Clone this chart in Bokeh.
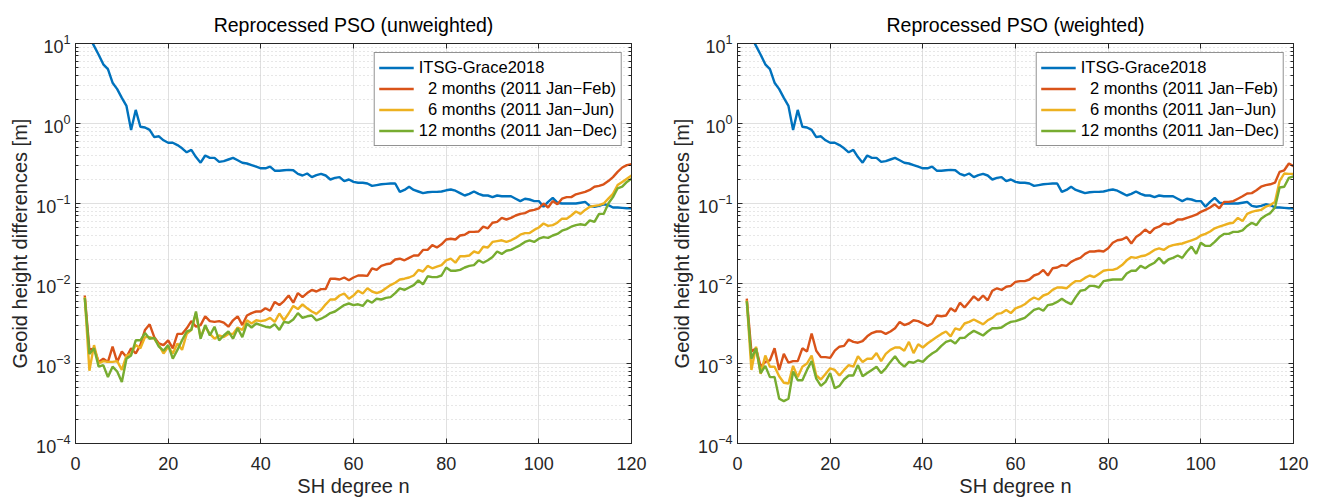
from bokeh.plotting import figure
from bokeh.layouts import row
from bokeh.models import LinearAxis, LogAxis, FixedTicker, Legend, LegendItem
from bokeh.embed import file_html
from bokeh.resources import INLINE

# SH degrees
degrees = list(range(2, 121))

# values, stored as log10 of geoid height differences [m]
itsg_log10 = [
    1.30, 1.08, 0.97, 0.86, 0.74, 0.68, 0.51, 0.43, 0.32, 0.22,
    -0.08, 0.17, -0.04, -0.05, -0.08, -0.17, -0.16, -0.21, -0.24, -0.24,
    -0.27, -0.31, -0.36, -0.33, -0.42, -0.49, -0.40, -0.43, -0.43, -0.48,
    -0.47, -0.45, -0.43, -0.46, -0.49, -0.50, -0.52, -0.54, -0.56, -0.56,
    -0.54, -0.59, -0.59, -0.585, -0.58, -0.585, -0.63, -0.65, -0.625, -0.67,
    -0.645, -0.63, -0.65, -0.70, -0.68, -0.67, -0.72, -0.70, -0.73, -0.74,
    -0.74, -0.75, -0.78, -0.77, -0.76, -0.755, -0.75, -0.75, -0.855, -0.83,
    -0.79, -0.83, -0.85, -0.87, -0.86, -0.855, -0.855, -0.85, -0.835, -0.825,
    -0.84, -0.87, -0.90, -0.88, -0.85, -0.88, -0.90, -0.90, -0.92, -0.90,
    -0.91, -0.91, -0.91, -0.94, -0.97, -0.94, -0.95, -0.97, -0.97, -1.04,
    -0.98, -0.93, -0.99, -1.00, -1.00, -1.00, -1.00, -0.99, -0.98, -1.03,
    -1.04, -1.03, -1.01, -1.02, -1.05, -1.05, -1.055, -1.06, -1.06,
]

# unweighted
m2_unw_log10 = [
    -2.15, -2.83, -2.81, -2.98, -2.94, -2.98, -2.79, -2.98, -2.85, -2.92,
    -2.81, -2.875, -2.77, -2.58, -2.51, -2.67, -2.75, -2.77, -2.71, -2.81,
    -2.63, -2.63, -2.56, -2.47, -2.54, -2.52, -2.41, -2.47, -2.48, -2.47,
    -2.49, -2.54, -2.46, -2.41, -2.52, -2.40, -2.37, -2.35, -2.35, -2.31,
    -2.34, -2.23, -2.27, -2.22, -2.15, -2.24, -2.12, -2.17, -2.12, -2.08,
    -2.10, -2.07, -2.07, -1.94, -1.94, -1.95, -1.925, -1.96, -1.925, -1.90,
    -1.90, -1.905, -1.81, -1.83, -1.78, -1.76, -1.75, -1.70, -1.69, -1.71,
    -1.68, -1.65, -1.65, -1.58, -1.58, -1.52, -1.55, -1.51, -1.45, -1.44,
    -1.45, -1.40, -1.39, -1.355, -1.355, -1.35, -1.29, -1.31, -1.24, -1.23,
    -1.18, -1.20, -1.18, -1.15, -1.13, -1.12, -1.09, -1.08, -1.06, -1.00,
    -1.05, -0.97, -1.01, -0.94, -0.92, -0.92, -0.885, -0.87, -0.855, -0.83,
    -0.79, -0.78, -0.76, -0.72, -0.67, -0.605, -0.55, -0.52, -0.51,
]
m6_unw_log10 = [
    -2.17, -3.09, -2.77, -3.00, -2.97, -2.98, -2.98, -2.97, -3.08, -2.90,
    -2.875, -2.77, -2.81, -2.67, -2.67, -2.69, -2.77, -2.875, -2.79, -2.875,
    -2.75, -2.83, -2.63, -2.58, -2.375, -2.67, -2.54, -2.63, -2.69, -2.65,
    -2.67, -2.63, -2.63, -2.55, -2.58, -2.46, -2.50, -2.46, -2.47, -2.46,
    -2.43, -2.48, -2.375, -2.46, -2.375, -2.28, -2.32, -2.26, -2.31, -2.35,
    -2.38, -2.33, -2.26, -2.20, -2.20, -2.15, -2.125, -2.19, -2.15, -2.09,
    -2.125, -2.06, -2.10, -2.12, -2.10, -2.06, -2.02, -1.99, -1.95, -1.94,
    -1.925, -1.90, -1.83, -1.85, -1.78, -1.81, -1.79, -1.77, -1.71, -1.69,
    -1.74, -1.66, -1.66, -1.65, -1.60, -1.62, -1.54, -1.55, -1.48, -1.47,
    -1.46, -1.48, -1.46, -1.43, -1.39, -1.37, -1.37, -1.33, -1.30, -1.25,
    -1.28, -1.27, -1.24, -1.19, -1.19, -1.15, -1.10, -1.13, -1.08, -1.04,
    -1.03, -1.02, -1.00, -0.94, -0.88, -0.77, -0.73, -0.69, -0.65,
]
m12_unw_log10 = [
    -2.18, -2.88, -2.81, -3.04, -3.02, -3.17, -3.04, -3.10, -3.23, -2.94,
    -2.90, -2.71, -2.71, -2.62, -2.69, -2.68, -2.79, -2.84, -2.77, -2.94,
    -2.83, -2.71, -2.60, -2.58, -2.35, -2.69, -2.52, -2.65, -2.54, -2.71,
    -2.65, -2.60, -2.69, -2.56, -2.67, -2.50, -2.55, -2.50, -2.52, -2.54,
    -2.55, -2.51, -2.58, -2.48, -2.49, -2.45, -2.37, -2.43, -2.41, -2.40,
    -2.46, -2.44, -2.41, -2.37, -2.35, -2.31, -2.27, -2.25, -2.27, -2.26,
    -2.28, -2.21, -2.24, -2.19, -2.20, -2.18, -2.17, -2.12, -2.06, -2.08,
    -2.05, -2.02, -1.96, -2.01, -1.91, -1.92, -1.92, -1.90, -1.80, -1.84,
    -1.84, -1.83, -1.80, -1.78, -1.77, -1.71, -1.74, -1.71, -1.67, -1.60,
    -1.63, -1.59, -1.58, -1.55, -1.52, -1.48, -1.46, -1.48, -1.44, -1.42,
    -1.43, -1.40, -1.38, -1.34, -1.32, -1.29, -1.27, -1.26, -1.27, -1.21,
    -1.23, -1.13, -1.13, -1.00, -0.92, -0.81, -0.79, -0.73, -0.69,
]

# weighted
m2_w_log10 = [
    -2.19, -2.85, -2.81, -3.04, -2.98, -2.96, -2.81, -3.08, -2.88, -2.99,
    -2.97, -2.97, -2.81, -2.85, -2.625, -2.84, -2.92, -2.92, -2.93, -2.84,
    -2.79, -2.78, -2.70, -2.73, -2.74, -2.72, -2.66, -2.62, -2.60, -2.60,
    -2.63, -2.60, -2.56, -2.48, -2.52, -2.50, -2.46, -2.47, -2.50, -2.53,
    -2.50, -2.40, -2.41, -2.40, -2.31, -2.35, -2.24, -2.30, -2.23, -2.16,
    -2.21, -2.15, -2.21, -2.09, -2.06, -2.08, -2.04, -2.03, -1.98, -1.97,
    -1.97, -1.95, -1.90, -1.88, -1.83, -1.90, -1.81, -1.80, -1.77, -1.78,
    -1.73, -1.70, -1.68, -1.63, -1.60, -1.60, -1.59, -1.60, -1.56, -1.49,
    -1.46, -1.45, -1.42, -1.50, -1.42, -1.38, -1.325, -1.37, -1.31, -1.29,
    -1.25, -1.26, -1.24, -1.20, -1.20, -1.18, -1.16, -1.14, -1.105, -1.08,
    -1.05, -1.01, -1.06, -0.98, -0.98, -0.97, -0.94, -0.91, -0.875, -0.87,
    -0.835, -0.79, -0.77, -0.76, -0.74, -0.605, -0.585, -0.50, -0.534,
]
m6_w_log10 = [
    -2.21, -3.08, -2.79, -3.13, -2.90, -3.04, -3.04, -3.16, -3.24, -3.25,
    -3.03, -3.17, -3.04, -3.00, -2.90, -3.15, -3.20, -3.13, -3.06, -3.08,
    -3.15, -3.08, -3.02, -3.04, -2.91, -2.98, -2.94, -2.94, -2.87, -2.97,
    -2.88, -2.83, -2.80, -2.80, -2.84, -2.73, -2.87, -2.76, -2.80, -2.75,
    -2.71, -2.67, -2.63, -2.60, -2.66, -2.56, -2.58, -2.50, -2.48, -2.45,
    -2.48, -2.51, -2.46, -2.43, -2.38, -2.37, -2.33, -2.37, -2.31, -2.29,
    -2.26, -2.21, -2.175, -2.20, -2.15, -2.13, -2.08, -2.05, -2.05, -2.06,
    -2.01, -1.97, -1.97, -1.93, -1.90, -1.92, -1.88, -1.84, -1.83, -1.83,
    -1.81, -1.77, -1.71, -1.67, -1.68, -1.66, -1.65, -1.62, -1.58, -1.56,
    -1.58, -1.54, -1.52, -1.51, -1.50, -1.48, -1.46, -1.44, -1.40, -1.38,
    -1.35, -1.31, -1.29, -1.27, -1.25, -1.24, -1.18, -1.22, -1.13, -1.105,
    -1.09, -1.08, -1.04, -1.02, -0.98, -0.72, -0.625, -0.63, -0.63,
]
m12_w_log10 = [
    -2.22, -2.94, -2.81, -3.12, -3.03, -3.17, -3.17, -3.44, -3.47, -3.44,
    -3.10, -3.21, -3.21, -3.08, -2.97, -3.19, -3.28, -3.23, -3.12, -3.31,
    -3.28, -3.20, -3.15, -3.15, -3.02, -3.16, -3.12, -3.08, -3.04, -3.12,
    -3.06, -2.98, -2.91, -2.99, -3.04, -2.98, -2.99, -2.96, -2.98, -2.92,
    -2.875, -2.84, -2.78, -2.73, -2.71, -2.75, -2.68, -2.68, -2.63, -2.59,
    -2.62, -2.65, -2.60, -2.56, -2.56, -2.55, -2.51, -2.48, -2.47, -2.45,
    -2.43, -2.38, -2.33, -2.31, -2.34, -2.27, -2.26, -2.23, -2.19, -2.23,
    -2.26, -2.17, -2.09, -2.08, -2.03, -2.03, -2.05, -1.97, -1.96, -1.95,
    -1.95, -1.95, -1.875, -1.84, -1.84, -1.78, -1.81, -1.77, -1.74, -1.68,
    -1.75, -1.70, -1.68, -1.65, -1.68, -1.60, -1.54, -1.63, -1.49, -1.53,
    -1.53, -1.48, -1.42, -1.38, -1.38, -1.355, -1.355, -1.335, -1.28, -1.24,
    -1.27, -1.19, -1.15, -1.12, -1.05, -0.80, -0.79, -0.68, -0.66,
]

titles = ["Reprocessed PSO (unweighted)", "Reprocessed PSO (weighted)"]
series_labels = [
    "ITSG-Grace2018",
    "\u00a0\u00a02 months (2011 Jan\u2212Feb)",
    "\u00a0\u00a06 months (2011 Jan\u2212Jun)",
    "12 months (2011 Jan\u2212Dec)",
]
colors = ["#0072BD", "#D95319", "#EDB120", "#77AC30"]
x_ticks = [0, 20, 40, 60, 80, 100, 120]
y_ticks = [1e-4, 1e-3, 1e-2, 1e-1, 1e0, 1e1]
y_minor = [m * 10.0 ** e for e in range(-4, 1) for m in range(2, 10)]

FONT = "Liberation Sans"
AXC = "#262626"


def to_val(arr):
    return [10.0 ** v for v in arr]


def panel(title, series, min_left, min_right):
    p = figure(
        frame_width=556, frame_height=400,
        x_range=(0, 120), y_range=(1e-4, 1e1), y_axis_type="log",
        output_backend="svg", toolbar_location=None,
        min_border_left=min_left, min_border_right=min_right,
        min_border_top=43, min_border_bottom=56,
        background_fill_color="white", border_fill_color="white",
    )
    p.title.text = title
    p.title.align = "center"
    p.title.vertical_align = "top"
    p.title.text_font = FONT
    p.title.text_font_size = "19.5px"
    p.title.text_font_style = "normal"
    p.title.text_color = "black"
    p.title.standoff = 12

    p.outline_line_color = AXC
    p.outline_line_width = 1

    xt = FixedTicker(ticks=x_ticks, minor_ticks=[])
    yt = FixedTicker(ticks=y_ticks, minor_ticks=y_minor)

    for ax in p.xaxis:
        ax.ticker = xt
        ax.axis_label = "SH degree n"
    for ax in p.yaxis:
        ax.ticker = yt
        ax.axis_label = "Geoid height differences [m]"
    for ax in list(p.xaxis) + list(p.yaxis):
        ax.axis_label_text_font = FONT
        ax.axis_label_text_font_size = "20px"
        ax.axis_label_text_font_style = "normal"
        ax.axis_label_text_color = AXC
        ax.major_label_text_font = FONT
        ax.major_label_text_font_size = "18px"
        ax.major_label_text_color = AXC
        ax.axis_line_color = AXC
        ax.major_tick_line_color = AXC
        ax.minor_tick_line_color = AXC
        ax.major_tick_in = 5
        ax.major_tick_out = 0
        ax.minor_tick_in = 3
        ax.minor_tick_out = 0
    p.xaxis.major_label_standoff = 13
    p.xaxis.axis_label_standoff = 2
    p.yaxis.major_label_standoff = 5
    p.yaxis.axis_label_standoff = 2

    top = LinearAxis(ticker=xt, major_label_text_font_size="1px",
                     major_label_text_alpha=0,
                     major_tick_in=5, major_tick_out=0, minor_tick_line_color=None,
                     axis_line_color=AXC, major_tick_line_color=AXC,
                     major_label_standoff=0)
    p.add_layout(top, "above")
    right = LogAxis(ticker=yt, major_label_text_font_size="1px",
                    major_label_text_alpha=0,
                    major_tick_in=5, major_tick_out=0, minor_tick_in=3, minor_tick_out=0,
                    axis_line_color=AXC, major_tick_line_color=AXC,
                    minor_tick_line_color=AXC, major_label_standoff=0)
    p.add_layout(right, "right")

    p.xgrid.ticker = xt
    p.ygrid.ticker = yt
    p.xgrid.grid_line_color = "#e0e0e0"
    p.ygrid.grid_line_color = "#e0e0e0"
    p.ygrid.minor_grid_line_color = "#cfcfcf"
    p.ygrid.minor_grid_line_dash = "1 3"

    items = []
    for vals, col, lab in zip(series, colors, series_labels):
        r = p.line(degrees, to_val(vals), line_color=col, line_width=2.4)
        items.append(LegendItem(label=lab, renderers=[r]))

    leg = Legend(items=items, location="top_right")
    leg.margin = 9
    leg.padding = 4
    leg.spacing = 0
    leg.glyph_width = 35
    leg.glyph_height = 21
    leg.label_height = 21
    leg.label_standoff = 5
    leg.label_text_font = FONT
    leg.label_text_font_size = "16.5px"
    leg.label_text_color = "black"
    leg.border_line_color = AXC
    leg.border_line_width = 1
    leg.background_fill_alpha = 1
    p.add_layout(leg)
    return p


p1 = panel(titles[0], [itsg_log10, m2_unw_log10, m6_unw_log10, m12_unw_log10], 75, 37)
p2 = panel(titles[1], [itsg_log10, m2_w_log10, m6_w_log10, m12_w_log10], 69, 18)

layout = row(p1, p2)
open("out.html", "w").write(file_html(layout, INLINE))
